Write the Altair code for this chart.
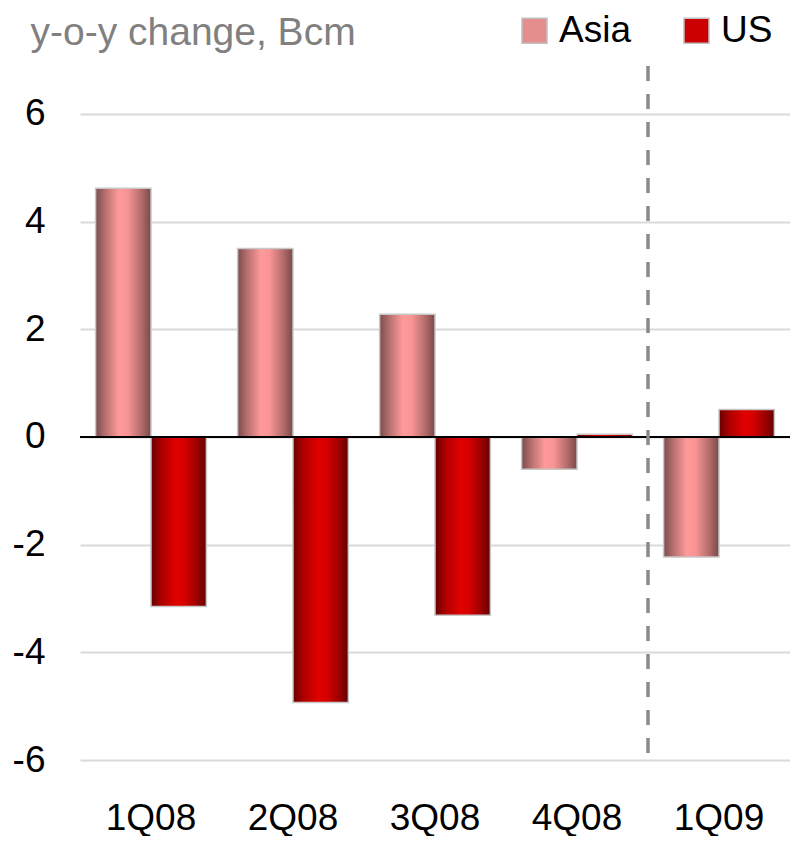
import altair as alt
import pandas as pd

quarters = ["1Q08", "2Q08", "3Q08", "4Q08", "1Q09"]
asia = [4.62, 3.50, 2.28, -0.60, -2.23]
us = [-3.15, -4.93, -3.31, 0.05, 0.51]
series = ["Asia", "US"]
y_ticks = [-6, -4, -2, 0, 2, 4, 6]
separator_before = ["1Q09"]

FONT = "Liberation Sans"

rows = []
for q, a, u in zip(quarters, asia, us):
    rows.append({"quarter": q, "series": "Asia", "value": a})
    rows.append({"quarter": q, "series": "US", "value": u})
df = pd.DataFrame(rows)
sep_df = pd.DataFrame({"quarter": separator_before})

asia_grad = {
    "gradient": "linear", "x1": 0, "x2": 1, "y1": 0, "y2": 0,
    "stops": [
        {"offset": 0.0, "color": "#7a4c4c"},
        {"offset": 0.18, "color": "#b87070"},
        {"offset": 0.42, "color": "#ff9a9a"},
        {"offset": 0.58, "color": "#f89494"},
        {"offset": 0.82, "color": "#b56c6c"},
        {"offset": 1.0, "color": "#784848"},
    ],
}
us_grad = {
    "gradient": "linear", "x1": 0, "x2": 1, "y1": 0, "y2": 0,
    "stops": [
        {"offset": 0.0, "color": "#680000"},
        {"offset": 0.2, "color": "#b00000"},
        {"offset": 0.45, "color": "#e00000"},
        {"offset": 0.6, "color": "#d80000"},
        {"offset": 0.82, "color": "#a00000"},
        {"offset": 1.0, "color": "#640000"},
    ],
}

x_enc = alt.X(
    "quarter:N",
    sort=quarters,
    scale=alt.Scale(paddingInner=0, paddingOuter=0),
    axis=alt.Axis(
        title=None, labelAngle=0, labelFontSize=37, labelFont=FONT,
        labelColor="#000000", ticks=False, domain=False, labelPadding=40,
    ),
)
xoff = alt.XOffset("series:N", scale=alt.Scale(domain=series, paddingInner=0, paddingOuter=0.282))
y_enc = alt.Y(
    "value:Q",
    stack=None,
    scale=alt.Scale(domain=[-6, 7], nice=False, zero=False),
    axis=alt.Axis(
        values=y_ticks, grid=True, gridColor="#d9d9d9", gridWidth=2,
        domain=False, ticks=False, labelFontSize=37, labelFont=FONT,
        labelColor="#000000", labelPadding=35, labelExpr="'' + datum.value",
        title="y-o-y change, Bcm", titleAngle=0, titleX=-50, titleY=-28,
        titleAlign="left", titleBaseline="middle", titleColor="#808080",
        titleFontSize=39, titleFont=FONT, titleFontWeight="normal",
    ),
)

base = alt.Chart(df)

asia_bars = base.transform_filter(alt.datum.series == "Asia").mark_bar(
    fill=asia_grad, stroke="#c8c8c8", strokeWidth=1.5
).encode(x=x_enc, xOffset=xoff, y=y_enc)

us_bars = base.transform_filter(alt.datum.series == "US").mark_bar(
    fill=us_grad, stroke="#c8c8c8", strokeWidth=1.5
).encode(x=x_enc, xOffset=xoff, y=y_enc)

legend_layer = base.mark_square(opacity=0, size=1).encode(
    x=x_enc,
    xOffset=xoff,
    y=y_enc,
    color=alt.Color(
        "series:N",
        scale=alt.Scale(domain=series, range=["#e48e8e", "#cc0000"]),
        legend=alt.Legend(
            title=None, orient="none", direction="horizontal",
            legendX=436, legendY=-48, symbolType="square", symbolSize=625,
            symbolStrokeColor="#c0c0c0", symbolStrokeWidth=1.5, symbolOpacity=1,
            labelFontSize=37, labelFont=FONT, labelColor="#000000",
            labelOffset=6, columnPadding=47, padding=0,
        ),
    ),
)

zero_line = alt.Chart(df).mark_rule(color="#000000", strokeWidth=2).encode(
    y=alt.Y(datum=0)
)

sep_line = alt.Chart(sep_df).mark_rule(
    color="#8a8a8a", strokeWidth=3.5, strokeDash=[15, 13], strokeDashOffset=22
).encode(
    x=alt.X("quarter:N", sort=quarters, bandPosition=0),
    y=alt.Y(datum=7),
    y2=alt.Y2(datum=-6),
)

chart = alt.layer(asia_bars, us_bars, legend_layer, zero_line, sep_line).properties(
    width=710,
    height=700,
    autosize=alt.AutoSizeParams(type="none"),
    padding={"left": 72, "top": 52, "right": 0, "bottom": 76},
).configure_view(strokeWidth=0)

chart.save("out.html", embed_options={"renderer": "svg", "actions": False})
